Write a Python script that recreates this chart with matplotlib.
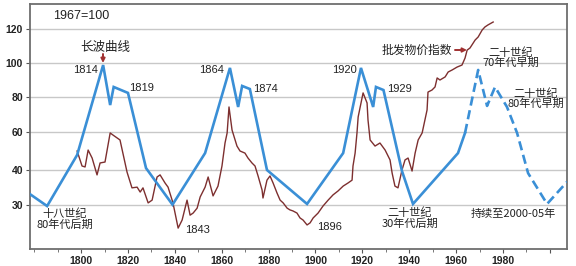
import numpy as np
import matplotlib
matplotlib.use("Agg")
import matplotlib.pyplot as plt
from matplotlib.ticker import FixedLocator, MultipleLocator

# ---------------- data ----------------
# blue schematic long-wave line (solid part)
wave_years = [1778.2, 1785.5, 1798.3, 1809.4, 1812.4, 1813.9, 1820.0, 1827.7,
              1839.0, 1852.9, 1863.5, 1867.0, 1868.7, 1872.0, 1879.3, 1896.4,
              1911.8, 1919.4, 1924.6, 1925.8, 1929.0, 1936.9, 1941.6, 1960.8, 1963.8]
wave_values = [33.1, 29.7, 47.9, 98.8, 75.4, 85.9, 82.4, 41.0,
               30.1, 48.9, 97.1, 74.3, 86.5, 84.7, 40.0, 30.3,
               48.9, 97.1, 74.3, 85.9, 84.1, 39.7, 30.3, 48.9, 59.5]
# blue schematic long-wave line (projected, dashed part)
proj_years = [1963.8, 1969.4, 1973.2, 1976.6, 1981.7, 1986.0, 1990.7, 1998.8, 2007.3]
proj_values = [59.5, 95.9, 74.9, 85.9, 74.3, 59.5, 39.1, 30.3, 36.6]

# wholesale price index (1967 = 100)
wpi_years = [1798.3, 1800.4, 1801.7, 1803.0, 1804.7, 1806.8, 1808.1, 1810.2, 1812.4,
             1813.6, 1816.6, 1819.6, 1821.7, 1823.9, 1825.2, 1826.4, 1828.6, 1830.3,
             1832.4, 1833.7, 1835.8, 1837.1, 1839.2, 1841.4, 1843.1, 1845.2, 1846.5,
             1847.8, 1849.5, 1850.8, 1852.9, 1854.2, 1856.3, 1858.4, 1860.1, 1861.4,
             1862.3, 1863.1, 1864.4, 1866.5, 1867.8, 1869.9, 1871.2, 1872.9, 1874.2,
             1875.5, 1877.2, 1877.6, 1879.3, 1880.6, 1881.9, 1883.6, 1884.9, 1886.2,
             1887.9, 1889.1, 1890.4, 1892.1, 1893.4, 1894.7, 1896.4, 1897.7, 1899.0,
             1901.1, 1903.2, 1905.4, 1907.5, 1909.6, 1911.8, 1913.9, 1915.6, 1916.0,
             1916.9, 1917.7, 1918.2, 1920.3, 1922.0, 1922.4, 1923.3, 1925.4, 1927.5,
             1929.7, 1931.8, 1932.7, 1933.9, 1935.2, 1936.9, 1938.2, 1939.5, 1941.2,
             1942.5, 1943.8, 1945.5, 1947.6, 1948.0, 1949.7, 1951.0, 1951.9, 1953.1,
             1955.3, 1956.6, 1958.3, 1960.4, 1962.5, 1963.8, 1964.7, 1965.9, 1968.1,
             1969.4, 1971.1, 1972.3, 1973.6, 1975.8]
wpi_values = [50.0, 42.1, 41.6, 50.5, 46.3, 38.6, 43.7, 44.2, 59.5,
              58.4, 55.8, 39.4, 34.9, 35.1, 33.7, 34.9, 30.6, 31.4,
              38.0, 38.6, 36.3, 35.1, 30.6, 23.4, 25.7, 31.4, 27.1,
              27.7, 29.1, 32.3, 35.1, 38.0, 32.6, 35.4, 42.1, 54.2,
              59.5, 74.3, 61.1, 52.6, 50.0, 48.9, 46.3, 43.7, 42.1,
              38.3, 34.3, 32.0, 37.1, 38.3, 36.3, 33.4, 31.4, 30.6,
              29.1, 28.6, 28.3, 27.7, 26.3, 25.7, 24.3, 24.9, 26.3,
              27.7, 29.7, 31.4, 32.9, 34.0, 35.4, 36.3, 37.1, 42.1,
              48.9, 59.5, 68.6, 82.4, 76.6, 66.9, 55.8, 52.6, 54.2,
              50.5, 45.3, 39.1, 35.4, 34.9, 40.0, 45.3, 46.3, 39.7,
              48.9, 55.8, 59.5, 72.6, 82.9, 84.1, 85.9, 91.2, 90.0,
              91.8, 94.7, 95.9, 97.6, 98.8, 102.9, 107.6, 108.8, 113.5,
              115.3, 119.4, 121.2, 122.4, 124.1]

y_ticks = [30, 40, 60, 80, 100, 120]
x_ticks = [1800, 1820, 1840, 1860, 1880, 1900, 1920, 1940, 1960, 1980, 2000]
x_tick_labels = ["1800", "1820", "1840", "1860", "1880", "1900", "1920", "1940", "1960", "1980", ""]

# ---------------- irregular y scale of the original ----------------
_sv = np.array([0, 30, 40, 60, 80, 100, 120, 300], dtype=float)
_sp = np.array([-61, 44, 79, 117, 152, 186, 220, 526], dtype=float)
def fwd(v):
    return np.interp(v, _sv, _sp)
def inv(p):
    return np.interp(p, _sp, _sv)

W, H = 576, 266
fig = plt.figure(figsize=(W / 100, H / 100), dpi=100)
ax = fig.add_axes([30 / W, 17 / H, 537 / W, 245 / H])
ax.set_yscale("function", functions=(fwd, inv))
ax.set_xlim(1778.2, 2007.3)
ax.set_ylim(17.43, 134.7)

BLUE = "#3a8fd6"
BROWN = "#7d2f2f"

ax.yaxis.set_major_locator(FixedLocator(y_ticks))
ax.yaxis.set_minor_locator(FixedLocator([]))
ax.set_yticklabels([str(t) for t in y_ticks])
ax.set_xticks(x_ticks)
ax.set_xticklabels(x_tick_labels)
ax.xaxis.set_minor_locator(MultipleLocator(10))
ax.grid(axis="y", color="#c8c8c8", lw=1.0)
ax.set_axisbelow(True)

for s in ax.spines.values():
    s.set_color("#6e6e6e")
    s.set_linewidth(1.3)

ax.tick_params(axis="both", which="major", direction="out", length=3, width=0.8,
               colors="#555555", labelcolor="#222222", pad=2)
ax.tick_params(axis="x", which="minor", direction="out", length=2, width=0.7, colors="#777777")
for lab in ax.get_xticklabels() + ax.get_yticklabels():
    lab.set_fontfamily("Liberation Sans")
    lab.set_fontweight("bold")
    lab.set_fontsize(7.5)

ax.plot(wpi_years, wpi_values, color=BROWN, lw=1.0, zorder=3)
ax.plot(wave_years, wave_values, color=BLUE, lw=1.9, zorder=4, solid_joinstyle="miter")
ax.plot(proj_years, proj_values, color=BLUE, lw=1.9, ls=(0, (3.5, 1.8)), zorder=4)

CJK = ["Noto Sans CJK SC", "DejaVu Sans"]
NUM = ["Liberation Sans", "Noto Sans CJK SC"]

def T(x, y, s, size=8, fam=None, **kw):
    fig.text(x / W, 1 - y / H, s, ha=kw.pop("ha", "center"), va="center",
             fontsize=size, family=fam or CJK, color=kw.pop("color", "#222222"),
             linespacing=0.95, **kw)

T(81, 16, "1967=100", size=9, fam=NUM)
T(105, 47, "长波曲线", size=9)
T(86, 70, "1814", fam=NUM)
T(142, 88, "1819", fam=NUM)
T(212, 70, "1864", fam=NUM)
T(265, 89, "1874", fam=NUM)
T(344, 70, "1920", fam=NUM)
T(399, 89, "1929", fam=NUM)
T(452, 50, "批发物价指数", size=8.5, ha="right")
T(511, 58, "二十世纪\n70年代早期", size=8)
T(536, 99, "二十世纪\n80年代早期", size=8)
T(65, 219, "十八世纪\n80年代后期", size=8)
T(198, 230, "1843", fam=NUM)
T(330, 227, "1896", fam=NUM)
T(410, 218, "二十世纪\n30年代后期", size=8)
T(513, 214, "持续至2000-05年", size=8)

arrow_kw = dict(arrowstyle="-|>", color="#a03030", lw=1.4, mutation_scale=6,
                shrinkA=0, shrinkB=0)
ax.annotate("", xy=(103 / W, 1 - 63 / H), xytext=(103 / W, 1 - 54 / H),
            xycoords="figure fraction", textcoords="figure fraction", arrowprops=arrow_kw)
ax.annotate("", xy=(467 / W, 1 - 50 / H), xytext=(455 / W, 1 - 50 / H),
            xycoords="figure fraction", textcoords="figure fraction", arrowprops=arrow_kw)

fig.savefig("out.png", dpi=100)
